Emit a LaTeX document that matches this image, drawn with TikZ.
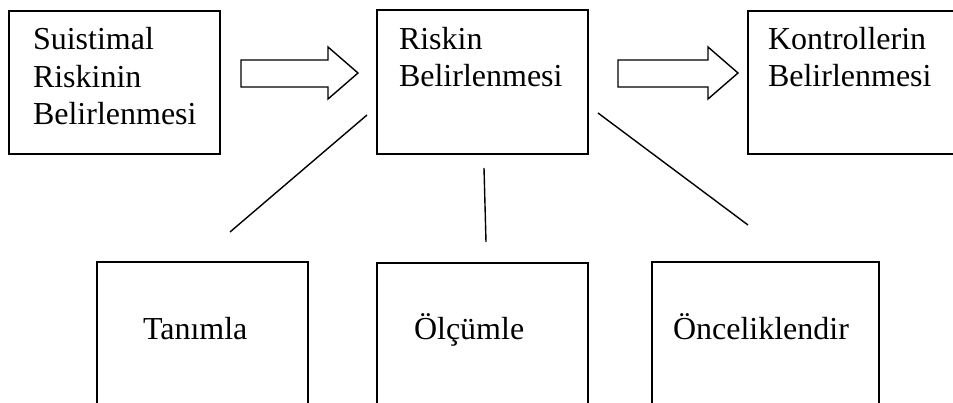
\documentclass[tikz,border=0pt]{standalone}
\usepackage{fontspec}
\setmainfont{Liberation Serif}
\begin{document}
\begin{tikzpicture}[x=1pt,y=-1pt,
  box/.style={draw=black,line width=1.5pt,inner sep=0pt,outer sep=0pt,anchor=north west},
  lbl/.style={inner sep=0pt,outer sep=0pt,anchor=base west,align=left,
    font=\fontsize{32}{37.5}\selectfont},
  link/.style={draw=black,line width=1.4pt},
  blockarrow/.style={draw=black,line width=1.4pt,fill=white,line join=miter}]
\useasboundingbox (0,0) rectangle (953,403);
\clip (0,0) rectangle (953,403);
% top boxes
\node[box,minimum width=211pt,minimum height=143pt] (b1) at (9,11) {};
\node[box,minimum width=211pt,minimum height=144pt] (b2) at (377,10) {};
\node[box,minimum width=230pt,minimum height=143pt] (b3) at (748,11) {};
% bottom boxes (open below the picture)
\node[box,minimum width=211pt,minimum height=170pt] (b4) at (97,262) {};
\node[box,minimum width=211pt,minimum height=170pt] (b5) at (377,263) {};
\node[box,minimum width=227pt,minimum height=170pt] (b6) at (652,262) {};
% texts (base anchor = baseline of the last line)
\node[lbl] (t1) at (33,125) {Suistimal\\Riskinin\\Belirlenmesi};
\node[lbl] (t2) at (399,87) {Riskin\\Belirlenmesi};
\node[lbl] (t3) at (768,87) {Kontrollerin\\Belirlenmesi};
\node[lbl] (t4) at (143,339) {Tanımla};
\node[lbl] (t5) at (414,339) {Ölçümle};
\node[lbl] (t6) at (673,339) {Önceliklendir};
% block arrows
\draw[blockarrow] (241,60) -- (328,60) -- (328,47) -- (358,73) -- (328,99) -- (328,87) -- (241,87) -- cycle;
\draw[blockarrow] (618,60) -- (708,60) -- (708,47) -- (738,73) -- (708,99) -- (708,87) -- (618,87) -- cycle;
% connector lines
\coordinate (l1a) at (367,115); \coordinate (l1b) at (230,232);
\coordinate (l2a) at (484,168); \coordinate (l2b) at (486,242);
\coordinate (l3a) at (598,113); \coordinate (l3b) at (748,225);
\draw[link] (l1a) -- (l1b);
\draw[link] (l2a) -- (l2b);
\draw[link] (l3a) -- (l3b);
\end{tikzpicture}
\end{document}
